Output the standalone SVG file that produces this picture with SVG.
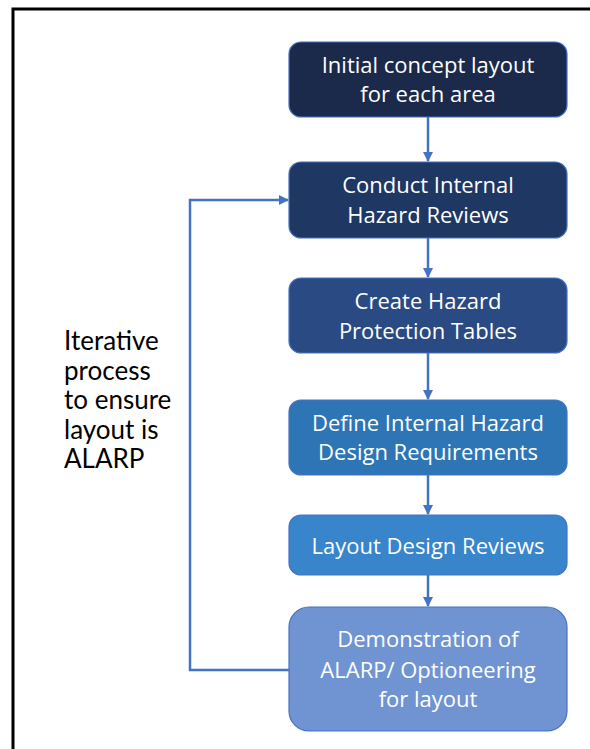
<svg xmlns="http://www.w3.org/2000/svg" width="590" height="749" viewBox="0 0 590 749">
<defs>
<marker id="arr" viewBox="0 0 10 10" refX="9" refY="5" markerWidth="4" markerHeight="4" orient="auto" markerUnits="strokeWidth">
<path d="M0,0 L10,5 L0,10 Z" fill="#4472c4"/>
</marker>
</defs>
<style>
.box{stroke:#4472c4;stroke-width:1.2}
.bt{font-family:"Open Sans","Noto Sans",sans-serif;font-size:22px;fill:#ffffff;text-anchor:middle}
.lt{font-family:Lato,"Noto Sans",sans-serif;font-size:26px;fill:#000000}
.con{fill:none;stroke:#4472c4;stroke-width:2.5}
</style>
<rect width="590" height="749" fill="#ffffff"/>
<rect x="13" y="9" width="600" height="760" fill="none" stroke="#000000" stroke-width="3"/>
<g id="connectors">
<line class="con" x1="428" y1="117" x2="428" y2="161" marker-end="url(#arr)"/>
<line class="con" x1="428" y1="238" x2="428" y2="277" marker-end="url(#arr)"/>
<line class="con" x1="428" y1="353" x2="428" y2="399" marker-end="url(#arr)"/>
<line class="con" x1="428" y1="475" x2="428" y2="514" marker-end="url(#arr)"/>
<line class="con" x1="428" y1="575" x2="428" y2="606" marker-end="url(#arr)"/>
<polyline class="con" points="289,670 190,670 190,200 288,200" marker-end="url(#arr)"/>
</g>
<g id="n1">
<rect class="box" x="289" y="42" width="278" height="75" rx="12" fill="#1b2a4b"/>
<text class="bt" x="428" y="73">Initial concept layout</text>
<text class="bt" x="428" y="102">for each area</text>
</g>
<g id="n2">
<rect class="box" x="289" y="162" width="278" height="76" rx="12" fill="#1f3763"/>
<text class="bt" x="428" y="193">Conduct Internal</text>
<text class="bt" x="428" y="223">Hazard Reviews</text>
</g>
<g id="n3">
<rect class="box" x="289" y="278" width="278" height="75" rx="12" fill="#2a4a84"/>
<text class="bt" x="428" y="309">Create Hazard</text>
<text class="bt" x="428" y="339">Protection Tables</text>
</g>
<g id="n4">
<rect class="box" x="289" y="400" width="278" height="75" rx="12" fill="#2e75b6"/>
<text class="bt" x="428" y="431">Define Internal Hazard</text>
<text class="bt" x="428" y="460">Design Requirements</text>
</g>
<g id="n5">
<rect class="box" x="289" y="515" width="278" height="60" rx="12" fill="#3885cc"/>
<text class="bt" x="428" y="554">Layout Design Reviews</text>
</g>
<g id="n6">
<rect class="box" x="289" y="607" width="278" height="124" rx="20" fill="#7094d2"/>
<text class="bt" x="428" y="647">Demonstration of</text>
<text class="bt" x="428" y="678">ALARP/ Optioneering</text>
<text class="bt" x="428" y="707">for layout</text>
</g>
<g id="label">
<text class="lt" x="64" y="350">Iterative</text>
<text class="lt" x="64" y="380">process</text>
<text class="lt" x="64" y="409">to ensure</text>
<text class="lt" x="64" y="439">layout is</text>
<text class="lt" x="64" y="468">ALARP</text>
</g>
</svg>
